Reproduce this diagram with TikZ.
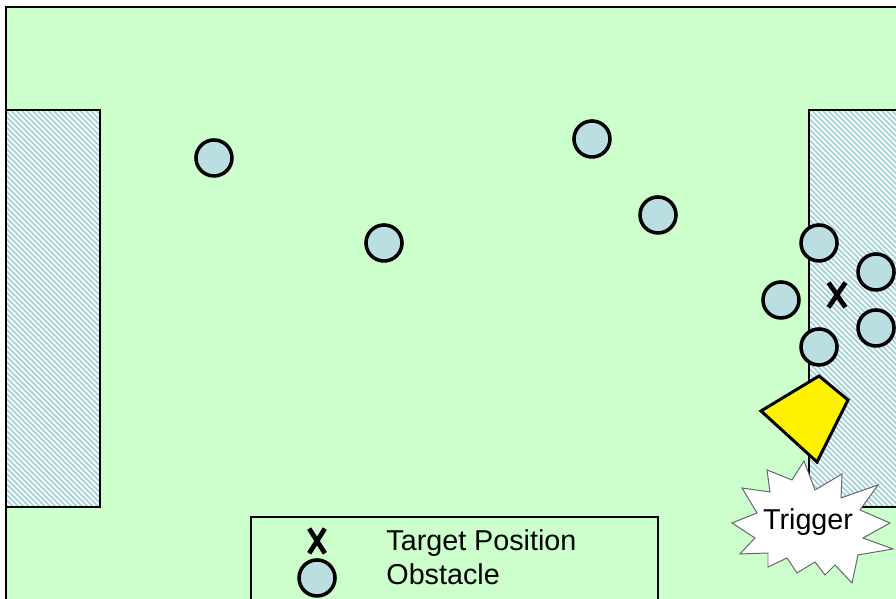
\documentclass[tikz,border=0pt]{standalone}
\usepackage{fontspec}
\setmainfont{Liberation Sans}
\usetikzlibrary{calc}

\definecolor{fieldgreen}{RGB}{204,255,204}
\definecolor{hatchblue}{RGB}{164,211,216}
\definecolor{obstblue}{RGB}{186,222,226}

\newcommand{\lblsize}{\fontsize{14.6}{17}\selectfont}

\tikzset{
	obstacle/.style={circle, draw, fill=obstblue, line width=1.8pt, minimum size=0.643cm, inner sep=0pt},
	goalbox/.style={draw, line width=1.3pt},
	xmark/.style={line width=2.4pt},
}

\begin{document}
\begin{tikzpicture}
			\clip (0, 0) rectangle (16, 10.696);
			\fill[white] (0, 0) rectangle (16, 10.696);

			% playing field
			\draw[fill=fieldgreen, line width=0.8pt] (0.107, -0.5) rectangle (16.5, 10.571);

			% goal areas with hatching
			\fill[white] (0.107, 1.643) rectangle (1.786, 8.732);
			\fill[white] (14.446, 1.643) rectangle (16.5, 8.732);
			\begin{scope}
			\clip (0.107, 1.643) rectangle (1.786, 8.732);
			\foreach \c in {-7.2, -7.105, ..., 1.9} \draw[hatchblue, line width=0.9pt] (\c, 8.8) -- ({\c + 7.3}, 1.5);
			\end{scope}
			\begin{scope}
			\clip (14.446, 1.643) rectangle (16.5, 8.732);
			\foreach \c in {7.2, 7.295, ..., 16.1} \draw[hatchblue, line width=0.9pt] (\c, 8.8) -- ({\c + 7.3}, 1.5);
			\end{scope}
			\draw[goalbox] (0.107, 1.643) rectangle (1.786, 8.732);
			\draw[goalbox] (16.5, 1.643) -- (14.446, 1.643) -- (14.446, 8.732) -- (16.5, 8.732);

			% obstacles on the field
			\node[obstacle] (o1) at (3.821, 7.875) {};
			\node[obstacle] (o2) at (6.857, 6.357) {};
			\node[obstacle] (o3) at (10.571, 8.214) {};
			\node[obstacle] (o4) at (11.75, 6.857) {};
			\node[obstacle] (o5) at (14.625, 6.357) {};
			\node[obstacle] (o6) at (15.643, 5.839) {};
			\node[obstacle] (o7) at (13.946, 5.339) {};
			\node[obstacle] (o8) at (15.643, 4.839) {};
			\node[obstacle] (o9) at (14.625, 4.5) {};

			% target position
			\coordinate (tgt) at (14.946, 5.429);
			\draw[xmark] ($(tgt) + (-0.15, 0.22)$) -- ($(tgt) + (0.15, -0.22)$);
			\draw[xmark] ($(tgt) + (0.15, 0.22)$) -- ($(tgt) + (-0.15, -0.22)$);

			% robot
			\draw[fill=yellow, line width=1.5pt, line join=miter] (13.589, 3.357) -- (14.625, 3.982) -- (15.143, 3.554) -- (14.589, 2.446) -- cycle;

			% trigger burst
			\draw[fill=white, draw=black!60, line width=0.5pt] (14.357, 2.464) -- (14.554, 1.946) -- (15.036, 2.232) -- (15.018, 1.804)
				-- (15.679, 2.036) -- (15.357, 1.589) -- (15.893, 1.357) -- (15.411, 1.089) -- (15.946, 0.893)
				-- (15.321, 0.786) -- (15.214, 0.286) -- (14.911, 0.607) -- (14.732, 0.429) -- (14.554, 0.661)
				-- (14.232, 0.464) -- (14.054, 0.732) -- (13.714, 0.571) -- (13.714, 0.821) -- (13.214, 0.804)
				-- (13.482, 1.089) -- (13.071, 1.357) -- (13.518, 1.536) -- (13.25, 1.982) -- (13.75, 1.911)
				-- (13.696, 2.304) -- (14.143, 2.125) -- cycle;
			\node (trig) at (14.429, 1.375) {\lblsize Trigger};

			% legend
			\draw[line width=1.5pt] (4.482, -0.5) -- (4.482, 1.464) -- (11.75, 1.464) -- (11.75, -0.5);
			\coordinate (lgx) at (5.661, 1.036);
			\draw[xmark] ($(lgx) + (-0.14, 0.22)$) -- ($(lgx) + (0.14, -0.22)$);
			\draw[xmark] ($(lgx) + (0.14, 0.22)$) -- ($(lgx) + (-0.14, -0.22)$);
			\node[obstacle] (lgo) at (5.661, 0.375) {};
			\node[anchor=west, inner sep=0pt] (lgxt) at (6.893, 0.99) {\lblsize Target Position};
			\node[anchor=west, inner sep=0pt] (lgot) at (6.893, 0.45) {\lblsize Obstacle};
		\end{tikzpicture}
\end{document}
